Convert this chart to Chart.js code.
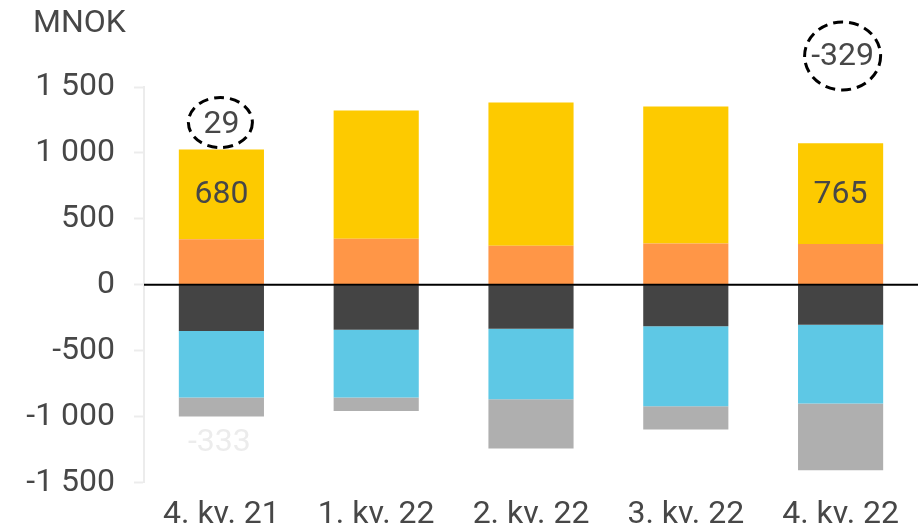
<!DOCTYPE html>
<html>
<head>
<meta charset="utf-8">
<script src="https://cdn.jsdelivr.net/npm/chart.js@4/dist/chart.umd.min.js"></script>
<style>
html,body{margin:0;padding:0;background:#fff;}
#wrap{width:918px;height:526px;position:relative;}
</style>
</head>
<body>
<div id="wrap"><canvas id="c" width="918" height="526"></canvas></div>
<script>
// ---- data ----
const categories = ['4. kv. 21', '1. kv. 22', '2. kv. 22', '3. kv. 22', '4. kv. 22'];
const orangeVals = [346, 350, 297, 314, 309];
const yellowVals = [680, 972, 1086, 1038, 765];
const darkVals   = [-350, -340, -332, -314, -302];
const blueVals   = [-505, -515, -535, -606, -598];
const grayVals   = [-143, -101, -374, -177, -505];
const yellowLabelShown = [true, false, false, false, true];
const yTicks = [-1500, -1000, -500, 0, 500, 1000, 1500];
const unitLabel = 'MNOK';
const calloutTop = { index: 0, text: '29' };
const calloutCorner = { index: 4, text: '-329' };
const lightBelow = { index: 0, text: '-333' };

const FONT = 'Roboto, "Noto Sans", sans-serif';
const TXT = '#474747';

function fmt(v) {
  const s = Math.abs(v).toString().replace(/\B(?=(\d{3})+(?!\d))/g, ' ');
  return (v < 0 ? '-' : '') + s;
}

function dashedEllipse(ctx, x, y, rx, ry) {
  ctx.save();
  ctx.beginPath();
  ctx.setLineDash([10, 6]);
  ctx.lineWidth = 3;
  ctx.strokeStyle = '#000';
  ctx.ellipse(x, y, rx, ry, 0, 0, Math.PI * 2);
  ctx.stroke();
  ctx.restore();
}

const overlay = {
  id: 'overlay',
  afterDatasetsDraw(chart) {
    const ctx = chart.ctx;
    const xs = chart.scales.x, ys = chart.scales.y;
    const area = chart.chartArea;
    ctx.save();
    // zero line
    const y0 = ys.getPixelForValue(0);
    ctx.beginPath();
    ctx.strokeStyle = '#000';
    ctx.lineWidth = 2;
    ctx.moveTo(area.left, y0);
    ctx.lineTo(area.right, y0);
    ctx.stroke();

    ctx.textAlign = 'center';
    ctx.textBaseline = 'middle';
    ctx.font = '32px ' + FONT;
    // yellow labels
    yellowVals.forEach((v, i) => {
      if (!yellowLabelShown[i]) return;
      const base = orangeVals[i];
      const yc = ys.getPixelForValue(base + v / 2);
      ctx.fillStyle = TXT;
      ctx.fillText(String(v), xs.getPixelForValue(i), yc + 1);
    });
    // top callout above first bar
    {
      const i = calloutTop.index;
      const top = ys.getPixelForValue(orangeVals[i] + yellowVals[i]);
      const cx = xs.getPixelForValue(i) - 1;
      const cy = top - 27;
      dashedEllipse(ctx, cx, cy, 32, 25);
      ctx.fillStyle = TXT;
      ctx.fillText(calloutTop.text, cx + 1, cy + 2);
    }
    // corner callout
    {
      const i = calloutCorner.index;
      const cx = xs.getPixelForValue(i) + 2;
      const cy = area.top - 31;
      dashedEllipse(ctx, cx, cy, 38, 34);
      ctx.fillStyle = TXT;
      ctx.fillText(calloutCorner.text, cx, cy + 1);
    }
    // light label under first bar
    {
      const i = lightBelow.index;
      const bottom = ys.getPixelForValue(darkVals[i] + blueVals[i] + grayVals[i]);
      ctx.fillStyle = '#ececec';
      ctx.fillText(lightBelow.text, xs.getPixelForValue(i) - 2, bottom + 27);
    }
    // unit label
    ctx.textAlign = 'left';
    ctx.font = '32px ' + FONT;
    ctx.fillStyle = TXT;
    ctx.fillText(unitLabel, 33, area.top - 63);
    ctx.restore();
  }
};

function ds(label, data, color) {
  return { label, data, backgroundColor: color, borderWidth: 0,
           categoryPercentage: 1.0, barPercentage: 0.55 };
}

new Chart(document.getElementById('c'), {
  type: 'bar',
  data: {
    labels: categories,
    datasets: [
      ds('orange', orangeVals, '#FF9647'),
      ds('yellow', yellowVals, '#FDCA00'),
      ds('dark', darkVals, '#444444'),
      ds('blue', blueVals, '#5EC8E5'),
      ds('gray', grayVals, '#AFAFAF')
    ]
  },
  options: {
    responsive: false,
    animation: false,
    layout: { padding: { top: 87, right: 0, left: 0, bottom: 0 } },
    plugins: { legend: { display: false }, tooltip: { enabled: false } },
    scales: {
      x: {
        stacked: true,
        grid: { display: false, drawTicks: false },
        border: { display: false },
        ticks: { color: TXT, font: { family: FONT, size: 32 }, padding: 13, maxRotation: 0, autoSkip: false },
        afterFit(s) { s.height = 43.3; }
      },
      y: {
        stacked: true,
        min: -1500, max: 1500,
        afterBuildTicks(s) { s.ticks = yTicks.map(v => ({ value: v })); },
        grid: { drawOnChartArea: false, drawTicks: true, tickLength: 10, tickColor: '#ececec', tickWidth: 2 },
        border: { display: true, color: '#ececec', width: 2 },
        ticks: { color: TXT, font: { family: FONT, size: 32 }, padding: 19, callback: v => fmt(v) },
        afterFit(s) { s.width = 144; }
      }
    }
  },
  plugins: [overlay]
});
</script>
</body>
</html>
